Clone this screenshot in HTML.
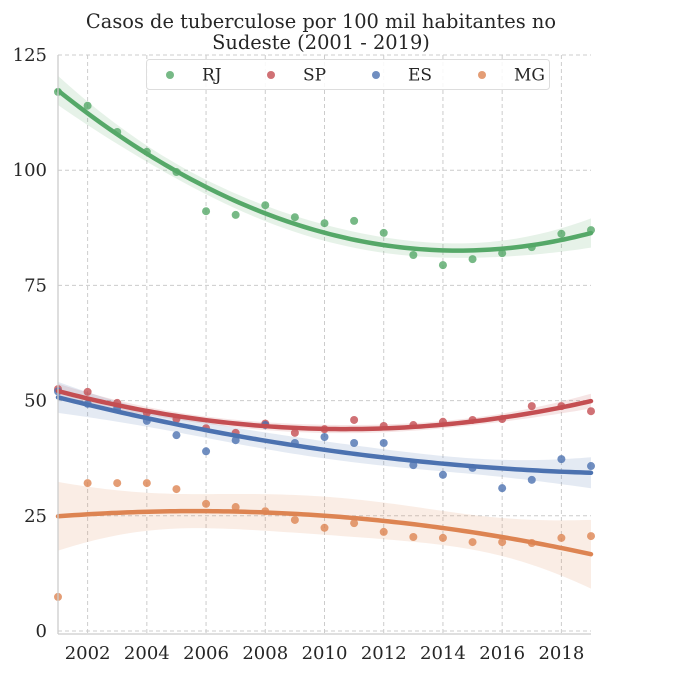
<!DOCTYPE html>
<html><head><meta charset="utf-8">
<style>
html,body{margin:0;padding:0;background:#fff;}
svg text{font-family:"DejaVu Serif","Liberation Serif",serif;fill:#262626;}
</style></head>
<body>
<svg id="chart" width="696" height="676" xmlns="http://www.w3.org/2000/svg">
<text x="321" y="28" font-size="19.4" text-anchor="middle">Casos de tuberculose por 100 mil habitantes no</text>
<text x="321" y="49" font-size="19.4" text-anchor="middle">Sudeste (2001 - 2019)</text>
<g id="grid"></g><g id="bands"></g><g id="points"></g><g id="lines"></g><g id="axes"></g><g id="legend"></g>
</svg>
<script>
const years=[2001,2002,2003,2004,2005,2006,2007,2008,2009,2010,2011,2012,2013,2014,2015,2016,2017,2018,2019];
const rjValues=[117,114,108.3,104,99.6,91.1,90.3,92.4,89.8,88.5,89,86.4,81.6,79.4,80.7,82,83.3,86.2,87];
const spValues=[52.5,51.9,49.5,47.3,46,44,43,45,43,43.8,45.8,44.5,44.7,45.4,45.8,46,48.8,48.8,47.7];
const esValues=[52,49.3,48.4,45.6,42.5,39,41.4,44.7,40.8,42.1,40.8,40.8,36,33.9,35.4,31,32.8,37.3,35.8];
const mgValues=[7.4,32.1,32.1,32.1,30.8,27.6,26.9,26,24.1,22.4,23.4,21.5,20.4,20.2,19.3,19.3,19.1,20.2,20.6];
const xTicks=[2002,2004,2006,2008,2010,2012,2014,2016,2018];
const yTicks=[0,25,50,75,100,125];
const seriesNames=["RJ","SP","ES","MG"];

const NS="http://www.w3.org/2000/svg";
const X0=58,X1=591,Y0=631,Y1=55;
const xs=v=>X0+(v-2001)/(2019-2001)*(X1-X0);
const ys=v=>Y0-(v/125)*(Y0-Y1);
function mk(tag,attrs,parent){const e=document.createElementNS(NS,tag);for(const k in attrs)e.setAttribute(k,attrs[k]);parent.appendChild(e);return e;}
const G=id=>document.getElementById(id);

for(const t of xTicks){const l=mk('line',{x1:xs(t),x2:xs(t),y1:Y1,y2:634,stroke:'#cccccc','stroke-dasharray':'4,3','stroke-width':1},G('grid'));
}
for(const t of yTicks){const l=mk('line',{x1:X0,x2:X1,y1:ys(t),y2:ys(t),stroke:'#cccccc','stroke-dasharray':'4,3','stroke-width':1},G('grid'));
}
const ax=G('axes');
let sp=mk('line',{x1:X0,x2:X0,y1:Y1,y2:634,stroke:'#cccccc','stroke-width':1.3},ax);

sp=mk('line',{x1:X0,x2:X1,y1:634,y2:634,stroke:'#cccccc','stroke-width':1.3},ax);

for(const t of xTicks){const e=mk('text',{x:xs(t),y:659,'font-size':18,'text-anchor':'middle'},ax);e.textContent=t;
}
for(const t of yTicks){const e=mk('text',{x:47,y:ys(t)+6,'font-size':18,'text-anchor':'end'},ax);e.textContent=t;
}

function fit(vals){
  const n=vals.length;const u=years.map(y=>y-2010);
  const S=[[0,0,0],[0,0,0],[0,0,0]],b=[0,0,0];
  for(let i=0;i<n;i++){const r=[1,u[i],u[i]*u[i]];for(let a=0;a<3;a++){b[a]+=r[a]*vals[i];for(let c=0;c<3;c++)S[a][c]+=r[a]*r[c];}}
  const inv=inv3(S);const beta=[0,1,2].map(a=>inv[a][0]*b[0]+inv[a][1]*b[1]+inv[a][2]*b[2]);
  let rss=0;for(let i=0;i<n;i++){const p=beta[0]+beta[1]*u[i]+beta[2]*u[i]*u[i];rss+=(vals[i]-p)**2;}
  const s2=rss/(n-3);
  return t=>{const w=t-2010,r=[1,w,w*w];const p=beta[0]+beta[1]*w+beta[2]*w*w;let v=0;
    for(let a=0;a<3;a++)for(let c=0;c<3;c++)v+=r[a]*inv[a][c]*r[c];return [p,2.12*Math.sqrt(s2*v)];};
}
function inv3(m){const[a,b,c]=m[0],[d,e,f]=m[1],[g,h,i]=m[2];
  const A=e*i-f*h,B=-(d*i-f*g),C=d*h-e*g,det=a*A+b*B+c*C;
  return [[A/det,-(b*i-c*h)/det,(b*f-c*e)/det],[B/det,(a*i-c*g)/det,-(a*f-c*d)/det],[C/det,-(a*h-b*g)/det,(a*e-b*d)/det]];}

const series=[[rjValues,'#55a868'],[spValues,'#c44e52'],[esValues,'#4c72b0'],[mgValues,'#dd8452']];
series.forEach(([vals,col],k)=>{
  const f=fit(vals);const N=100;let up=[],lo=[],ln=[];
  for(let j=0;j<=N;j++){const t=2001+18*j/N;const[p,h]=f(t);ln.push(xs(t)+','+ys(p));up.push(xs(t)+','+ys(p+h));lo.unshift(xs(t)+','+ys(p-h));}
  const band=mk('polygon',{points:up.concat(lo).join(' '),fill:col,'fill-opacity':0.15},G('bands'));
  
  const line=mk('polyline',{points:ln.join(' '),fill:'none',stroke:col,'stroke-width':4.5,'stroke-linecap':'round'},G('lines'));
  
  vals.forEach((v,i)=>{const c=mk('circle',{cx:xs(years[i]),cy:ys(v),r:4,fill:col,'fill-opacity':0.8},G('points'));
    });
});
const lg=G('legend');
const box=mk('rect',{x:146.5,y:59.5,width:403,height:30,rx:3,fill:'#fff','fill-opacity':0.85,stroke:'#dddddd'},lg);

const lx=[170,271,376,482];
series.forEach(([v,col],k)=>{
  const c=mk('circle',{cx:lx[k],cy:75,r:4,fill:col,'fill-opacity':0.8},lg);
  
  const t=mk('text',{x:lx[k]+32,y:80.5,'font-size':17},lg);t.textContent=seriesNames[k];
  
});
</script>
</body></html>
